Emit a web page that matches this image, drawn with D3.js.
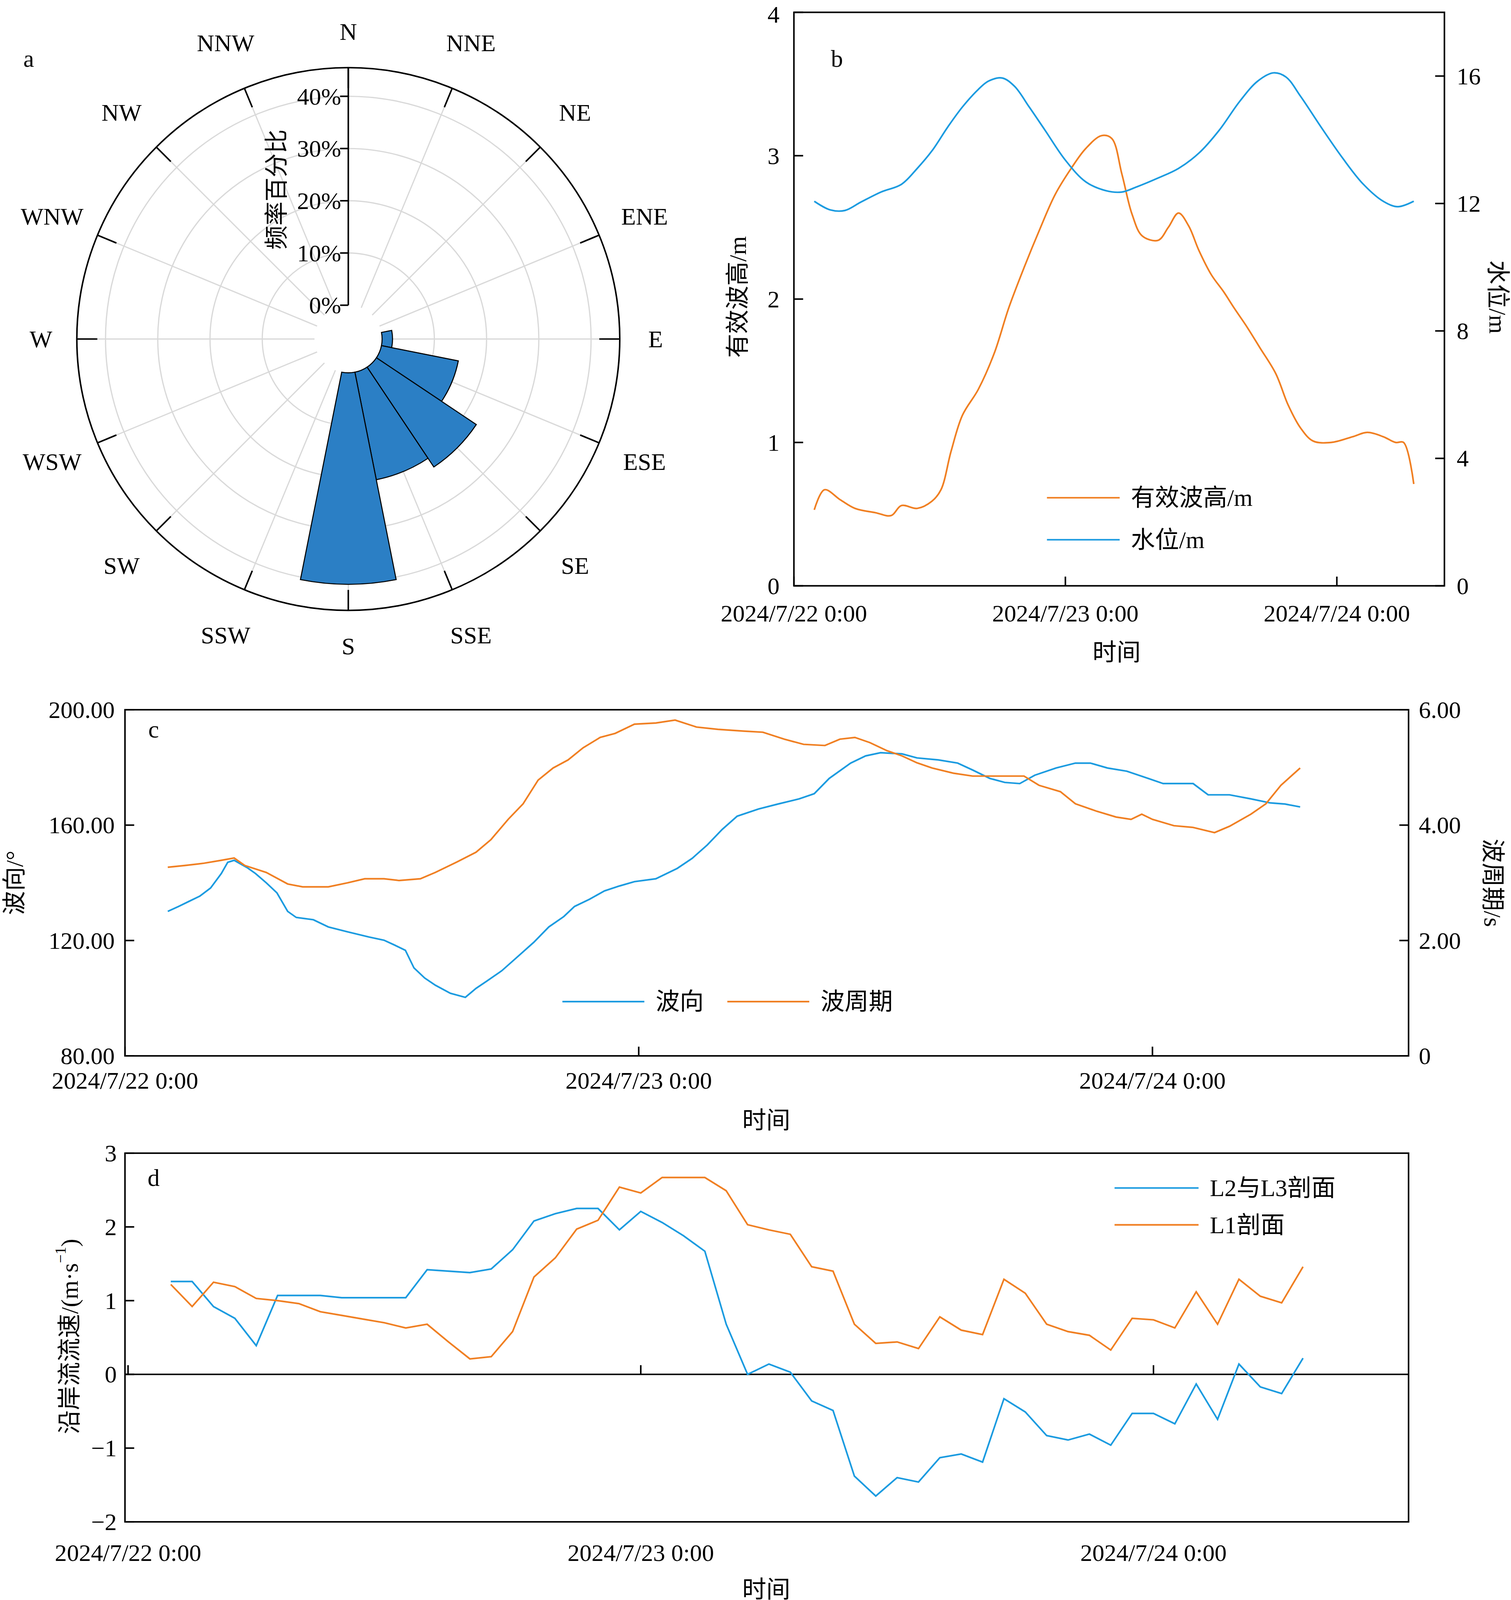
<!DOCTYPE html>
<html><head><meta charset="utf-8">
<script src="https://cdn.jsdelivr.net/npm/d3@7"></script>
<style>body{margin:0;background:#fff}text{font-family:"Liberation Serif","Noto Sans CJK SC",serif;fill:#000}</style>
</head><body>
<svg id="fig" width="3867" height="4111" viewBox="0 0 1475 1568"></svg>
<script>
// ---- data ----
var dirs = ["N","NNE","NE","ENE","E","ESE","SE","SSE","S","SSW","SW","WSW","W","WNW","NW","NNW"];
var roseFreq = [0,0,0,0,2,15,23,21,40.5,0,0,0,0,0,0,0];

var dateTicks = ["2024/7/22 0:00","2024/7/23 0:00","2024/7/24 0:00"];

var hsT = [1.8,2.7,4.1,5.4,7.2,8.6,9.5,10.9,12.2,13.0,13.9,14.9,16.3,17.7,19.0,20.4,21.7,23.1,24.5,25.8,27.2,28.1,29.0,29.9,30.8,32.2,33.1,34.0,34.9,35.8,36.9,38.0,38.9,40.1,41.2,42.6,43.7,44.8,45.9,47.5,49.4,50.7,52.1,53.2,53.9,54.8];
var hsV = [0.53,0.67,0.6,0.54,0.51,0.49,0.56,0.54,0.59,0.67,0.94,1.19,1.37,1.62,1.94,2.23,2.48,2.73,2.91,3.05,3.14,3.12,2.87,2.59,2.44,2.41,2.5,2.6,2.51,2.34,2.17,2.05,1.94,1.8,1.66,1.48,1.26,1.1,1.01,1.0,1.04,1.07,1.04,1.0,1.0,0.71];
var wlT = [1.8,3.2,4.5,5.9,7.7,9.5,10.9,12.2,13.6,14.9,16.3,17.2,18.4,19.5,20.8,22.2,24.0,25.8,27.6,29.0,30.3,32.2,34.0,35.8,37.6,39.4,41.0,42.4,43.5,44.8,46.6,48.5,50.3,52.1,53.4,54.8];
var wlV = [12.07,11.8,11.78,12.04,12.36,12.6,13.1,13.65,14.4,15.03,15.58,15.84,15.94,15.68,15.03,14.3,13.36,12.68,12.4,12.36,12.52,12.8,13.1,13.58,14.3,15.2,15.84,16.1,15.97,15.36,14.4,13.43,12.62,12.07,11.9,12.07];

var dirT = [2.0,2.5,3.0,3.5,4.0,4.5,4.8,5.1,5.7,6.1,6.6,7.1,7.6,8.0,8.8,9.5,10.4,11.4,12.1,12.6,13.1,13.5,14.0,14.5,15.2,15.9,16.4,16.9,17.6,18.3,19.1,19.8,20.5,21.0,21.7,22.4,23.1,23.8,24.8,25.8,26.5,27.2,27.9,28.6,29.6,30.5,31.5,32.2,32.9,33.9,34.6,35.3,36.3,37.0,38.0,38.9,39.6,40.4,41.1,41.8,42.5,43.5,44.4,45.1,45.9,46.8,47.8,48.5,49.2,49.9,50.6,51.6,52.6,53.5,54.2,54.9];
var dirV = [130.1,131.8,133.6,135.4,138.2,143.2,147.1,147.8,145.3,143.2,140,136.5,130.1,128,127.2,124.7,123,121.2,120.1,118.4,116.6,110.5,107,104.5,101.7,100.3,103.4,105.9,109.5,114.1,119.4,124.7,128.3,131.8,134.3,137.2,138.9,140.4,141.4,145,148.5,153.1,158.5,163.1,165.6,167.3,169.1,170.9,176.2,181.5,184,185.1,184.7,183.3,182.6,181.5,179.1,176.2,174.8,174.4,177.3,179.8,181.5,181.5,179.8,178.7,176.2,174.4,174.4,174.4,170.5,170.5,169.1,167.7,167.3,166.3];
var perT = [2.0,2.8,3.7,4.5,5.1,5.6,6.6,7.6,8.3,9.5,10.4,11.2,12.1,12.8,13.8,14.5,15.5,16.4,17.1,17.9,18.6,19.3,20.0,20.7,21.4,22.2,22.9,23.8,24.8,25.7,26.7,27.7,28.9,29.8,30.8,31.7,32.7,33.4,34.1,34.8,35.6,36.3,37.0,37.7,38.7,39.6,40.6,42.0,42.7,43.7,44.4,45.4,46.3,47.0,47.5,48.0,49.0,49.9,50.9,51.6,52.6,53.3,54.0,54.9];
var perV = [3.27,3.3,3.34,3.39,3.43,3.3,3.18,2.98,2.93,2.93,3.0,3.07,3.07,3.04,3.07,3.18,3.36,3.53,3.75,4.1,4.37,4.78,4.99,5.13,5.34,5.52,5.59,5.75,5.77,5.82,5.7,5.66,5.63,5.61,5.49,5.4,5.38,5.49,5.52,5.43,5.29,5.2,5.08,4.99,4.9,4.85,4.85,4.85,4.69,4.58,4.37,4.24,4.14,4.1,4.19,4.1,3.99,3.96,3.87,3.98,4.19,4.37,4.69,4.99];

var curHours = d3.range(2, 56);
var curL23 = [1.26,1.26,0.92,0.76,0.39,1.07,1.07,1.07,1.04,1.04,1.04,1.04,1.42,1.4,1.38,1.43,1.69,2.08,2.18,2.25,2.25,1.96,2.21,2.06,1.88,1.67,0.68,0.0,0.14,0.03,-0.36,-0.49,-1.38,-1.65,-1.4,-1.46,-1.13,-1.08,-1.19,-0.33,-0.51,-0.83,-0.89,-0.81,-0.96,-0.53,-0.53,-0.67,-0.13,-0.61,0.14,-0.17,-0.26,0.22];
var curL1 = [1.22,0.92,1.25,1.19,1.03,1.0,0.96,0.85,0.8,0.75,0.7,0.63,0.68,0.44,0.21,0.24,0.58,1.32,1.58,1.97,2.09,2.54,2.46,2.67,2.67,2.67,2.49,2.03,1.96,1.9,1.46,1.4,0.68,0.42,0.44,0.35,0.78,0.6,0.54,1.29,1.1,0.68,0.58,0.53,0.33,0.76,0.74,0.63,1.12,0.68,1.29,1.06,0.97,1.46];

var BLUE = "#1b9be0", ORANGE = "#f07f22", FS = 23.5;
var svg = d3.select("#fig");

function txt(g, x, y, s, anchor, rot) {
  var t = g.append("text").attr("x", x).attr("y", y).attr("font-size", FS)
    .attr("text-anchor", anchor || "middle").attr("dominant-baseline", "central").text(s);
  if (rot) t.attr("transform", "rotate(" + rot + "," + x + "," + y + ")");
  return t;
}

// ---- a: rose ----
var cx = 340, cy = 331, R = 265;
var ga = svg.append("g").attr("transform", "translate(" + cx + "," + cy + ")");
var rr = d3.scaleLinear().domain([0, 40]).range([33, 237]);
[10, 20, 30, 40].forEach(function (v) {
  ga.append("circle").attr("r", rr(v)).attr("fill", "none").attr("stroke", "#d9d9d9").attr("stroke-width", 1.2);
});
dirs.forEach(function (d, i) {
  var a = i * Math.PI / 8, sx = Math.sin(a), sy = -Math.cos(a);
  var lr = (i % 4 === 0) ? 300 : 313;
  ga.append("line").attr("x1", sx * 33).attr("y1", sy * 33).attr("x2", sx * R).attr("y2", sy * R)
    .attr("stroke", "#d9d9d9").attr("stroke-width", 1.2);
  ga.append("line").attr("x1", sx * (R - 20)).attr("y1", sy * (R - 20)).attr("x2", sx * R).attr("y2", sy * R)
    .attr("stroke", "#000").attr("stroke-width", 1.5);
  txt(ga, sx * lr, sy * lr, d);
});
var arc = d3.arc().innerRadius(rr(0)).outerRadius(function (d) { return rr(d.v); })
  .startAngle(function (d) { return d.i * Math.PI / 8 - Math.PI / 16; })
  .endAngle(function (d) { return d.i * Math.PI / 8 + Math.PI / 16; });
ga.selectAll("path.bar").data(roseFreq.map(function (v, i) { return { v: v, i: i }; }).filter(function (d) { return d.v > 0; }))
  .enter().append("path").attr("d", arc).attr("fill", "#2b7fc5").attr("stroke", "#000").attr("stroke-width", 1);
ga.append("circle").attr("r", R).attr("fill", "none").attr("stroke", "#000").attr("stroke-width", 1.5);
ga.append("line").attr("x1", 0).attr("x2", 0).attr("y1", -rr(0)).attr("y2", -R).attr("stroke", "#000").attr("stroke-width", 1.5);
[0, 10, 20, 30, 40].forEach(function (v) {
  ga.append("line").attr("x1", -8).attr("x2", 0).attr("y1", -rr(v)).attr("y2", -rr(v)).attr("stroke", "#000").attr("stroke-width", 1.5);
  txt(ga, -7, -rr(v), v + "%", "end");
});
txt(ga, -70, -146, "频率百分比", "middle", -90);
txt(svg, 28, 57, "a");

// ---- generic axis helpers ----
function box(g, x0, y0, x1, y1) {
  g.append("rect").attr("x", x0).attr("y", y0).attr("width", x1 - x0).attr("height", y1 - y0)
    .attr("fill", "none").attr("stroke", "#000").attr("stroke-width", 1.5);
}
function yTicks(g, y, ticks, x, dir, fmt, gap) {
  ticks.forEach(function (v) {
    g.append("line").attr("x1", x).attr("x2", x + dir * 9).attr("y1", y(v)).attr("y2", y(v)).attr("stroke", "#000").attr("stroke-width", 1.5);
    txt(g, x - dir * gap, Math.max(y(v), 14), fmt(v), dir > 0 ? "end" : "start");
  });
}
function xTicks(g, x, yLine, yLab, dir) {
  [0, 24, 48].forEach(function (h, i) {
    g.append("line").attr("x1", x(h)).attr("x2", x(h)).attr("y1", yLine).attr("y2", yLine - 9 * dir).attr("stroke", "#000").attr("stroke-width", 1.5);
    txt(g, x(h), yLab, dateTicks[i]);
  });
}
function line(g, xs, ys, x, y, col, curve) {
  g.append("path").datum(xs.map(function (t, i) { return [t, ys[i]]; }))
    .attr("d", d3.line().x(function (d) { return x(d[0]); }).y(function (d) { return y(d[1]); }).curve(curve || d3.curveLinear))
    .attr("fill", "none").attr("stroke", col).attr("stroke-width", 1.6);
}
function legend(g, x, y, col, s, len) {
  g.append("line").attr("x1", x).attr("x2", x + len).attr("y1", y).attr("y2", y).attr("stroke", col).attr("stroke-width", 1.6);
  txt(g, x + len + 11, y, s, "start");
}

// ---- b ----
var gb = svg.append("g");
var xb = d3.scaleLinear().domain([0, 24]).range([775, 1040]);
var yb = d3.scaleLinear().domain([0, 4]).range([572, 12]);
var yb2 = d3.scaleLinear().domain([0, 18]).range([572, 12]);
box(gb, 775, 12, 1410, 572);
line(gb, hsT, hsV, xb, yb, ORANGE, d3.curveCatmullRom);
line(gb, wlT, wlV, xb, yb2, BLUE, d3.curveCatmullRom);
yTicks(gb, yb, [0, 1, 2, 3, 4], 775, 1, String, 14);
yTicks(gb, yb2, [0, 4, 8, 12, 16], 1410, -1, String, 12);
xTicks(gb, xb, 572, 599, 1);
txt(gb, 1090, 637, "时间");
txt(gb, 720, 290, "有效波高/m", "middle", -90);
txt(gb, 1462, 290, "水位/m", "middle", 90);
txt(gb, 817, 57, "b");
legend(gb, 1022, 486, ORANGE, "有效波高/m", 71);
legend(gb, 1022, 527, BLUE, "水位/m", 71);

// ---- c ----
var gc = svg.append("g");
var xc = d3.scaleLinear().domain([0, 24]).range([122, 623.5]);
var yc = d3.scaleLinear().domain([80, 200]).range([1031, 693]);
var yc2 = d3.scaleLinear().domain([0, 6]).range([1031, 693]);
box(gc, 122, 693, 1375, 1031);
line(gc, dirT, dirV, xc, yc, BLUE);
line(gc, perT, perV, xc, yc2, ORANGE);
yTicks(gc, yc, [80, 120, 160, 200], 122, 1, function (v) { return v.toFixed(2); }, 10);
yTicks(gc, yc2, [0, 2, 4, 6], 1375, -1, function (v) { return v ? v.toFixed(2) : "0"; }, 10);
xTicks(gc, xc, 1031, 1055, 1);
txt(gc, 748, 1094, "时间");
txt(gc, 14, 862, "波向/°", "middle", -90);
txt(gc, 1457, 862, "波周期/s", "middle", 90);
txt(gc, 150, 712, "c");
legend(gc, 549, 978, BLUE, "波向", 80);
legend(gc, 710, 978, ORANGE, "波周期", 80);

// ---- d ----
var gd = svg.append("g");
var xd = d3.scaleLinear().domain([0, 24]).range([125, 625.5]);
var yd = d3.scaleLinear().domain([-2, 3]).range([1486, 1126]);
box(gd, 122, 1126, 1375, 1486);
gd.append("line").attr("x1", 122).attr("x2", 1375).attr("y1", yd(0)).attr("y2", yd(0)).attr("stroke", "#000").attr("stroke-width", 1.5);
line(gd, curHours, curL23, xd, yd, BLUE);
line(gd, curHours, curL1, xd, yd, ORANGE);
yTicks(gd, yd, [-2, -1, 0, 1, 2, 3], 122, 1, function (v) { return v < 0 ? "\u2212" + (-v) : String(v); }, 8);
xTicks(gd, xd, yd(0), 1516, 1);
txt(gd, 748, 1552, "时间");
var yl = gd.append("text").attr("font-size", FS).attr("text-anchor", "middle").attr("dominant-baseline", "central")
  .attr("transform", "translate(68,1305) rotate(-90)");
yl.append("tspan").text("沿岸流流速/(m·s");
yl.append("tspan").attr("font-size", 15).attr("dy", -9).text("−1");
yl.append("tspan").attr("dy", 9).text(")");
txt(gd, 150, 1150, "d");
legend(gd, 1088, 1160, BLUE, "L2与L3剖面", 82);
legend(gd, 1088, 1196, ORANGE, "L1剖面", 82);
</script>
</body></html>
